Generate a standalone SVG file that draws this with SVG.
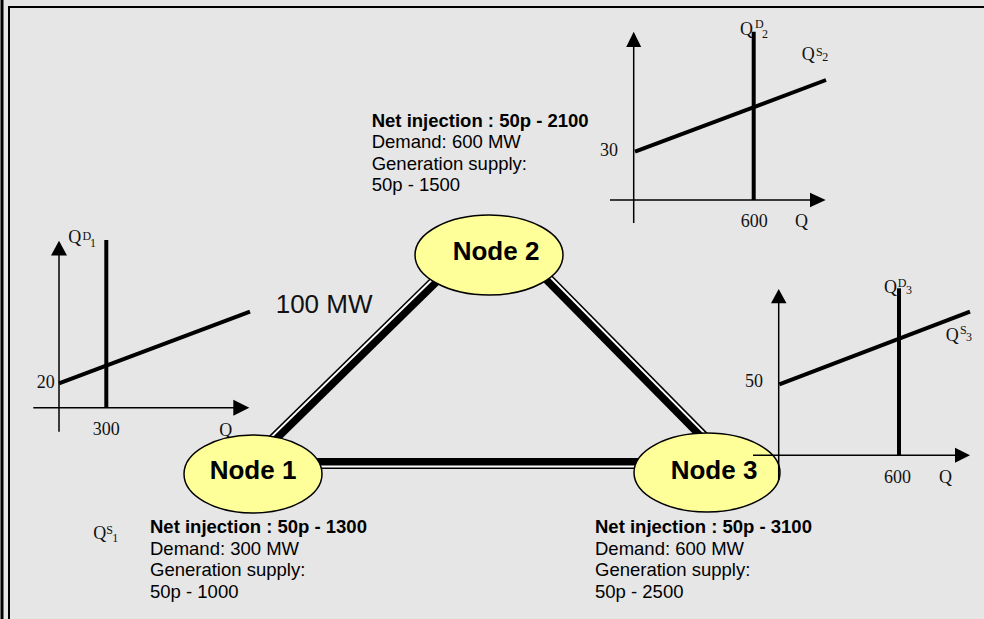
<svg xmlns="http://www.w3.org/2000/svg" width="984" height="619" viewBox="0 0 984 619">
<style>
.axis{stroke:#000;stroke-width:1.5;fill:none}
.curve{stroke:#000;stroke-width:4;fill:none}
.arrow{fill:#000;stroke:none}
.lbl{font-family:"Liberation Serif","Times New Roman",serif;font-size:18px;fill:#111}
.sm{font-family:"Liberation Serif","Times New Roman",serif;font-size:12px;fill:#111}
.info{font-family:"Liberation Sans",Arial,sans-serif;font-size:18.5px;fill:#000}
.b{font-weight:bold}
.big{font-family:"Liberation Sans",Arial,sans-serif;font-size:26px;fill:#111}
.node ellipse{fill:#FFFF99;stroke:#000;stroke-width:1.5}
.node text{font-family:"Liberation Sans",Arial,sans-serif;font-size:26px;font-weight:bold;fill:#000;text-anchor:middle}
.thick{stroke:#000;stroke-width:11;fill:none}
.gap{stroke:#fff;stroke-width:2;fill:none}
</style>
<rect x="0" y="0" width="984" height="619" fill="#e6e6e6"/>
<g id="frame">
<line x1="2" y1="0" x2="2" y2="619" stroke="#000" stroke-width="3"/>
<line x1="9" y1="7" x2="984" y2="7" stroke="#000" stroke-width="2"/>
<line x1="9" y1="6" x2="9" y2="619" stroke="#000" stroke-width="2"/>
</g>

<g id="connectors">
<g id="link-1-2">
<line class="thick" x1="264.7" y1="447.7" x2="445.3" y2="270.9"/>
<line class="gap" x1="262.6" y1="445.6" x2="443.2" y2="268.8"/>
</g>
<g id="link-2-3">
<line class="thick" x1="539" y1="269.9" x2="712" y2="445.2"/>
<line class="gap" x1="541.1" y1="267.8" x2="714.1" y2="443.1"/>
</g>
<g id="link-1-3">
<line class="thick" x1="300" y1="463.5" x2="650" y2="463.5"/>
<line class="gap" x1="300" y1="466.5" x2="650" y2="466.5"/>
</g>
</g>
<text class="big" x="275.7" y="312.7">100 MW</text>

<g id="graph1">
<line class="axis" x1="59" y1="252" x2="59" y2="431.7"/>
<polygon class="arrow" points="59,240.7 51,255.5 67,255.5"/>
<line class="axis" x1="33.3" y1="407.7" x2="236" y2="407.7"/>
<polygon class="arrow" points="249.3,407.7 233.3,399.7 233.3,415.7"/>
<line class="curve" x1="106.3" y1="240" x2="106.3" y2="407.7"/>
<line class="curve" x1="59" y1="383.3" x2="250" y2="311.7"/>
<text class="lbl" x="68.3" y="243.3">Q</text>
<text class="sm" x="82.5" y="239.5">D</text>
<text class="sm" x="90" y="246.5">1</text>
<text class="lbl" x="36.7" y="388.3">20</text>
<text class="lbl" x="92.7" y="435">300</text>
<text class="lbl" x="219.3" y="436">Q</text>
</g>

<g id="graph2">
<line class="axis" x1="633.7" y1="44" x2="633.7" y2="223"/>
<polygon class="arrow" points="633.7,31.7 626.2,47 641.2,47"/>
<line class="axis" x1="610" y1="200" x2="812" y2="200"/>
<polygon class="arrow" points="825.7,200 810,192.7 810,207.3"/>
<line class="curve" x1="753.7" y1="31.7" x2="753.7" y2="200"/>
<line class="curve" x1="635" y1="151.7" x2="826" y2="80"/>
<text class="lbl" x="740" y="34.5">Q</text>
<text class="sm" x="755" y="28">D</text>
<text class="sm" x="762" y="37.5">2</text>
<text class="lbl" x="801.7" y="60">Q</text>
<text class="sm" x="816" y="55.5">S</text>
<text class="sm" x="822.3" y="61">2</text>
<text class="lbl" x="600" y="155.7">30</text>
<text class="lbl" x="740.7" y="227">600</text>
<text class="lbl" x="795" y="227.3">Q</text>
</g>

<g id="node1" class="node">
<ellipse cx="253" cy="474" rx="69" ry="39"/>
<text x="253" y="479.3">Node 1</text>
</g>
<g id="node2" class="node">
<ellipse cx="489" cy="255" rx="74" ry="40"/>
<text x="496" y="260">Node 2</text>
</g>
<g id="node3" class="node">
<ellipse cx="707" cy="472.5" rx="73" ry="39.5"/>
<text x="714" y="479">Node 3</text>
</g>

<g id="graph3">
<line class="axis" x1="778.7" y1="300" x2="778.7" y2="480"/>
<polygon class="arrow" points="778.7,289 771,303.3 786.5,303.3"/>
<line class="axis" x1="753" y1="455.3" x2="957" y2="455.3"/>
<polygon class="arrow" points="970,455.3 955,447.8 955,462.8"/>
<line class="curve" x1="899" y1="288.3" x2="899" y2="455.3"/>
<line class="curve" x1="779.3" y1="384.3" x2="970" y2="311.7"/>
<text class="lbl" x="884" y="292.7">Q</text>
<text class="sm" x="897.7" y="286.5">D</text>
<text class="sm" x="906" y="293.5">3</text>
<text class="lbl" x="945.7" y="340.7">Q</text>
<text class="sm" x="960" y="333.5">S</text>
<text class="sm" x="966" y="341">3</text>
<text class="lbl" x="745" y="387.3">50</text>
<text class="lbl" x="884" y="483.3">600</text>
<text class="lbl" x="939" y="483.3">Q</text>
</g>

<g id="info2">
<text class="info b" x="371.7" y="126.7">Net injection : 50p - 2100</text>
<text class="info" x="371.7" y="148.3">Demand: 600 MW</text>
<text class="info" x="371.7" y="169.5">Generation supply:</text>
<text class="info" x="371.7" y="190.7">50p - 1500</text>
</g>
<g id="info1">
<text class="lbl" x="93.3" y="539.3">Q</text>
<text class="sm" x="106.3" y="533.5">S</text>
<text class="sm" x="112.3" y="542">1</text>
<text class="info b" x="150" y="533.3">Net injection : 50p - 1300</text>
<text class="info" x="150" y="555">Demand: 300 MW</text>
<text class="info" x="150" y="576.3">Generation supply:</text>
<text class="info" x="150" y="598.3">50p - 1000</text>
</g>
<g id="info3">
<text class="info b" x="595" y="533.3">Net injection : 50p - 3100</text>
<text class="info" x="595" y="555">Demand: 600 MW</text>
<text class="info" x="595" y="576.3">Generation supply:</text>
<text class="info" x="595" y="598.3">50p - 2500</text>
</g>
</svg>
